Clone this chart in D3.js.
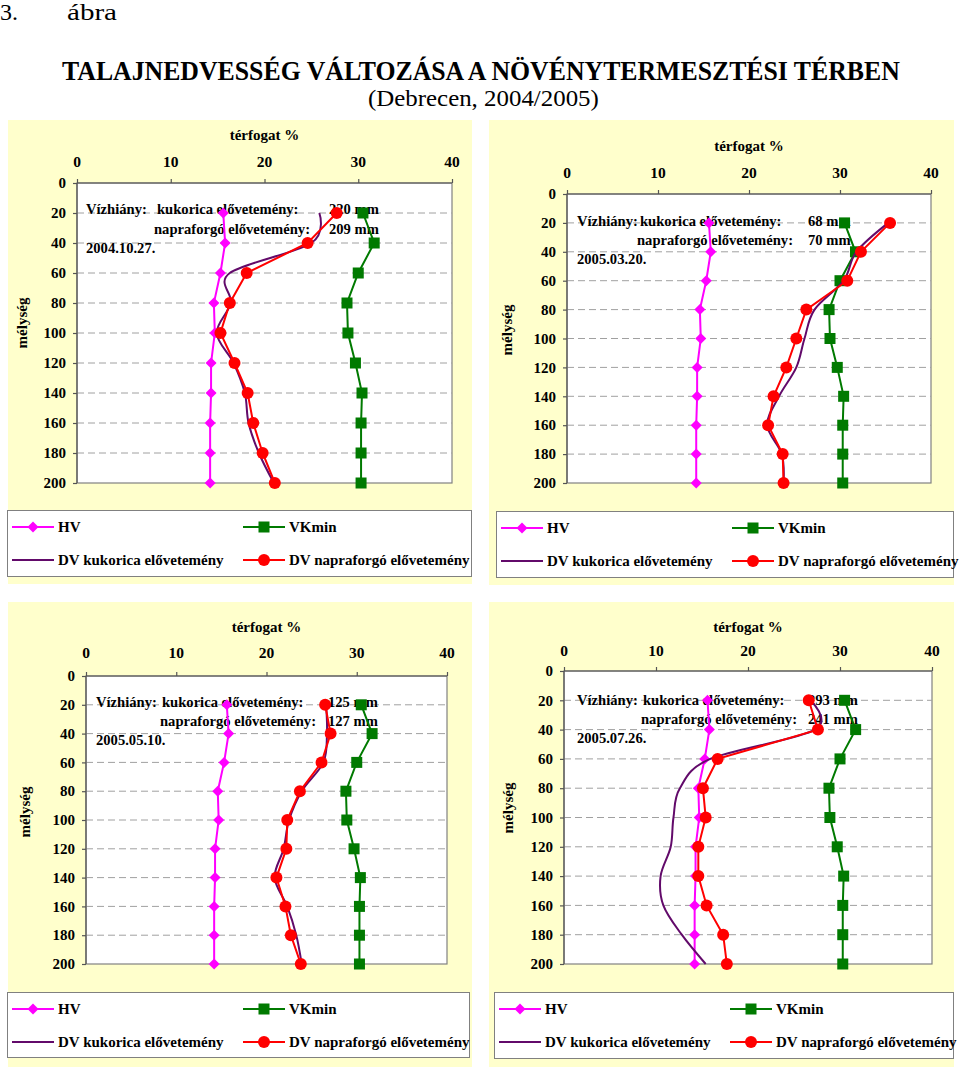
<!DOCTYPE html>
<html><head><meta charset="utf-8">
<script src="https://cdn.jsdelivr.net/npm/d3@7"></script>
<style>body{margin:0;background:#fff}</style>
</head><body><svg id="c" width="960" height="1070"></svg>
<script>
// ---------- data ----------
const depths = [20,40,60,80,100,120,140,160,180,200];
const depthTicks = [0,20,40,60,80,100,120,140,160,180,200];
const volTicks = [0,10,20,30,40];
const hv = [15.6,15.8,15.3,14.6,14.7,14.3,14.3,14.2,14.2,14.2];
const vkmin = [30.5,31.7,30.0,28.8,28.9,29.7,30.4,30.3,30.3,30.3];
const dvKukorica1 = [25.85,25.0,16.3,16.4,14.9,16.7,17.9,18.3,19.4,21.0];
const dvKukorica2 = [35.3,31.8,30.4,27.2,26.1,25.2,23.3,22.0,23.6,23.8];
const dvKukorica3 = [26.6,26.7,26.3,23.9,22.5,21.9,20.9,22.3,23.3,23.9];
const dvKukorica4 = [26.75,27.3,15.9,12.6,11.9,11.6,10.5,10.8,12.8,15.4];
const dvNapraforgo1 = [27.7,24.6,18.1,16.3,15.3,16.8,18.2,18.8,19.8,21.1];
const dvNapraforgo2 = [35.5,32.3,30.8,26.3,25.2,24.1,22.7,22.1,23.7,23.8];
const dvNapraforgo3 = [26.5,27.1,26.1,23.7,22.3,22.2,21.1,22.1,22.7,23.8];
const dvNapraforgo4 = [26.6,27.6,16.7,15.1,15.4,14.6,14.6,15.5,17.3,17.7];
const dates = ["2004.10.27.","2005.03.20.","2005.05.10.","2005.07.26."];
const deficitKukorica = ["220 mm","68 mm","125 mm","293 mm"];
const deficitNapraforgo = ["209 mm","70 mm","127 mm","241 mm"];
const seriesNames = ["HV","VKmin","DV kukorica elővetemény","DV napraforgó elővetemény"];
const xTitle = "térfogat %";
const yTitle = "mélység";
const figNo = "3.", figWord = "ábra";
const mainTitle = "TALAJNEDVESSÉG VÁLTOZÁSA A NÖVÉNYTERMESZTÉSI TÉRBEN";
const subTitle = "(Debrecen, 2004/2005)";

// ---------- layout ----------
const panels = [
 {bg:[8,120,464,464], p:[77,452,183,483], titleY:135, tickY:162, yl:[22,323], lg:[7,510,464,66],
  a:{x:86,kx:157,nx:154,vx:329,y:[209,229,248]}, kuk:dvKukorica1, nap:dvNapraforgo1},
 {bg:[489,120,465,465], p:[567,931,194,483], titleY:146, tickY:173, yl:[507,330], lg:[496,511,457,66],
  a:{x:577,kx:640,nx:637,vx:808,y:[221,240,259]}, kuk:dvKukorica2, nap:dvNapraforgo2},
 {bg:[8,602,464,465], p:[86,447,676,964], titleY:627, tickY:653, yl:[25,812], lg:[7,992,462,65],
  a:{x:96,kx:162,nx:160,vx:328,y:[702,721,740]}, kuk:dvKukorica3, nap:dvNapraforgo3},
 {bg:[489,602,465,465], p:[564,932,671,964], titleY:627, tickY:651, yl:[508,808], lg:[494,992,459,66],
  a:{x:577,kx:643,nx:641,vx:808,y:[700,719,738]}, kuk:dvKukorica4, nap:dvNapraforgo4}
];
const FONT = "Liberation Serif, Times New Roman, serif";
const C = {hv:"#ff00ff", vk:"#007a00", kuk:"#620a6a", nap:"#ff0000"};

const svg = d3.select("#c").style("font-family", FONT);

// header: fit text horizontally into the measured width with a scale transform
function fitText(s, x, y, size, bold, width){
  const t = svg.append("text").attr("x",0).attr("y",0).attr("dy","0.35em")
    .attr("font-size",size).attr("font-weight",bold?"bold":"normal").text(s);
  const w = t.node().getComputedTextLength();
  t.attr("transform",`translate(${x},${y}) scale(${width/w},1)`);
}
fitText(figNo, 0, 12, 24, false, 18);
fitText(figWord, 67, 12, 24, false, 50);
fitText(mainTitle, 62, 70, 28, true, 838);
fitText(subTitle, 368, 98, 24, false, 231);

const diamond = s => `M0,${-s}L${s},0L0,${s}L${-s},0Z`;

function drawMarker(g, type, x, y){
  if(type==="hv") g.append("path").attr("d",diamond(5.5)).attr("transform",`translate(${x},${y})`).attr("fill",C.hv);
  else if(type==="vk") g.append("rect").attr("x",x-5.5).attr("y",y-5.5).attr("width",11).attr("height",11).attr("fill",C.vk);
  else if(type==="nap") g.append("circle").attr("cx",x).attr("cy",y).attr("r",6).attr("fill",C.nap);
}

panels.forEach((P,i)=>{
  const g = svg.append("g");
  g.append("rect").attr("x",P.bg[0]).attr("y",P.bg[1]).attr("width",P.bg[2]).attr("height",P.bg[3]).attr("fill","#ffffcc");
  const x = d3.scaleLinear().domain([0,40]).range([P.p[0],P.p[1]]);
  const y = d3.scaleLinear().domain([0,200]).range([P.p[2],P.p[3]]);
  // plot area
  g.append("rect").attr("x",x(0)).attr("y",y(0)).attr("width",x(40)-x(0)).attr("height",y(200)-y(0))
    .attr("fill","#fff").attr("stroke","#808080").attr("stroke-width",1.2);
  // gridlines
  g.selectAll(".grid").data(depthTicks.filter(d=>d>0&&d<200)).join("line")
    .attr("x1",x(0)).attr("x2",x(40)).attr("y1",d=>y(d)).attr("y2",d=>y(d))
    .attr("stroke","#a0a0a0").attr("stroke-width",1).attr("stroke-dasharray","7,4");
  // axes
  const top = g.append("g").attr("transform",`translate(0,${y(0)})`)
    .call(d3.axisTop(x).tickValues(volTicks).tickSize(4).tickFormat(""));
  const left = g.append("g").attr("transform",`translate(${x(0)},0)`)
    .call(d3.axisLeft(y).tickValues(depthTicks).tickSize(4).tickFormat(""));
  [top,left].forEach(a=>{a.selectAll("path,line").attr("stroke","#555").attr("stroke-width",1.2);});
  left.select(".domain").attr("d",`M0,${y(0)}V${y(200)}`);
  top.select(".domain").attr("d",`M${x(0)},0H${x(40)}`);
  // tick labels
  g.selectAll(".xl").data(volTicks).join("text").attr("x",d=>x(d)).attr("y",P.tickY).attr("dy","0.35em")
    .attr("text-anchor","middle").attr("font-size",15.5).attr("font-weight","bold").text(d=>d);
  g.selectAll(".yl").data(depthTicks).join("text").attr("x",x(0)-11).attr("y",d=>y(d)).attr("dy","0.35em")
    .attr("text-anchor","end").attr("font-size",15).attr("font-weight","bold").text(d=>d);
  g.append("text").attr("x",(x(0)+x(40))/2).attr("y",P.titleY).attr("dy","0.35em").attr("text-anchor","middle")
    .attr("font-size",15).attr("font-weight","bold").text(xTitle);
  g.append("text").attr("transform",`translate(${P.yl[0]},${P.yl[1]}) rotate(-90)`).attr("dy","0.35em")
    .attr("text-anchor","middle").attr("font-size",15).attr("font-weight","bold").text(yTitle);
  // annotation
  const A = P.a, ta = (tx,ty,s)=>g.append("text").attr("x",tx).attr("y",ty).attr("dy","0.35em")
    .attr("font-size",14.6).attr("font-weight","bold").text(s);
  ta(A.x,A.y[0],"Vízhiány:");
  ta(A.kx,A.y[0],"kukorica elővetemény:");
  ta(A.vx,A.y[0],deficitKukorica[i]);
  ta(A.nx,A.y[1],"napraforgó elővetemény:");
  ta(A.vx,A.y[1],deficitNapraforgo[i]);
  ta(A.x,A.y[2],dates[i]);
  // series
  const lin = d3.line().x(d=>x(d[0])).y(d=>y(d[1]));
  const smooth = d3.line().x(d=>x(d[0])).y(d=>y(d[1])).curve(d3.curveCardinal.tension(0));
  const pts = arr => arr.map((v,k)=>[v,depths[k]]);
  g.append("path").attr("d",lin(pts(hv))).attr("fill","none").attr("stroke",C.hv).attr("stroke-width",2);
  pts(hv).forEach(d=>drawMarker(g,"hv",x(d[0]),y(d[1])));
  g.append("path").attr("d",lin(pts(vkmin))).attr("fill","none").attr("stroke",C.vk).attr("stroke-width",2);
  pts(vkmin).forEach(d=>drawMarker(g,"vk",x(d[0]),y(d[1])));
  g.append("path").attr("d",smooth(pts(P.kuk))).attr("fill","none").attr("stroke",C.kuk).attr("stroke-width",2);
  g.append("path").attr("d",lin(pts(P.nap))).attr("fill","none").attr("stroke",C.nap).attr("stroke-width",2);
  pts(P.nap).forEach(d=>drawMarker(g,"nap",x(d[0]),y(d[1])));
  // legend
  const L = P.lg;
  g.append("rect").attr("x",L[0]+0.5).attr("y",L[1]+0.5).attr("width",L[2]).attr("height",L[3])
    .attr("fill","#fff").attr("stroke","#808080");
  const items = [
    {t:seriesNames[0],c:C.hv,m:"hv",col:0,row:0},
    {t:seriesNames[1],c:C.vk,m:"vk",col:1,row:0},
    {t:seriesNames[2],c:C.kuk,m:null,col:0,row:1},
    {t:seriesNames[3],c:C.nap,m:"nap",col:1,row:1}];
  items.forEach(it=>{
    const lx = L[0] + (it.col ? 236 : 5), ly = L[1] + (it.row ? 50 : 17);
    g.append("line").attr("x1",lx).attr("x2",lx+42).attr("y1",ly).attr("y2",ly).attr("stroke",it.c).attr("stroke-width",2);
    if(it.m) drawMarker(g,it.m,lx+21,ly);
    g.append("text").attr("x",lx+46).attr("y",ly).attr("dy","0.35em").attr("font-size",15).attr("font-weight","bold").text(it.t);
  });
});
</script></body></html>
